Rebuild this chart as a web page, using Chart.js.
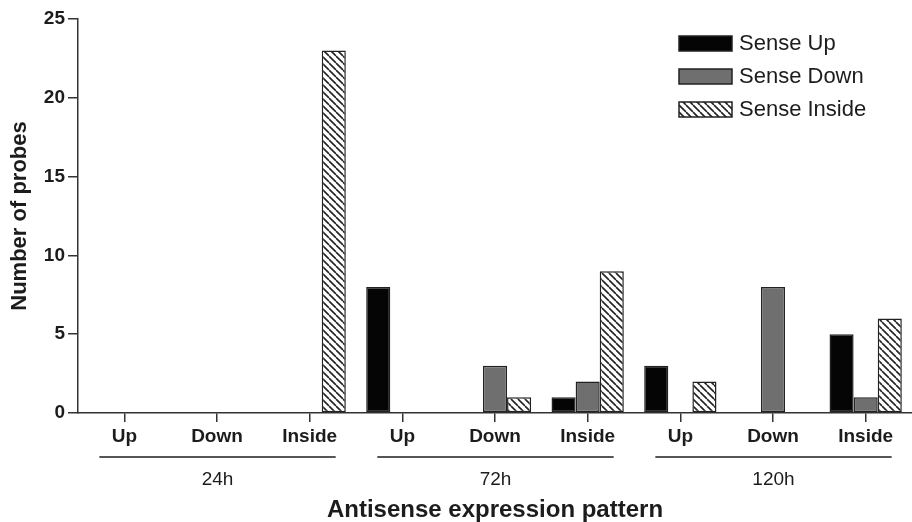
<!DOCTYPE html>
<html>
<head>
<meta charset="utf-8">
<script src="https://cdn.jsdelivr.net/npm/chart.js@4.4.0/dist/chart.umd.min.js"></script>
<style>
  html, body { margin: 0; padding: 0; background: #fff; }
  #wrap { width: 912px; height: 522px; }
</style>
</head>
<body>
<div id="wrap"><canvas id="c" width="912" height="522"></canvas></div>
<script>

// categories (antisense pattern), grouped by time point
categories = ["Up", "Down", "Inside", "Up", "Down", "Inside", "Up", "Down", "Inside"];
groups = ["24h", "72h", "120h"];
groupSize = 3;

// number of probes per sense pattern
senseUp     = [0, 0, 0,  8, 0, 1,  3, 0, 5];
senseDown   = [0, 0, 0,  0, 3, 2,  0, 8, 1];
senseInside = [0, 0, 23, 0, 1, 9,  2, 0, 6];

yTicks = [0, 5, 10, 15, 20, 25];

var FONT = "'Liberation Sans', Arial, Helvetica, sans-serif";
var INK = "#1c1c1c";

function makeHatch()
{
    var s = 7;
    var c = document.createElement("canvas");
    c.width = s; c.height = s;
    var g = c.getContext("2d");
    g.fillStyle = "#ffffff";
    g.fillRect(0, 0, s, s);
    g.strokeStyle = "#222222";
    g.lineWidth = 1.6;
    g.beginPath();
    for (var k = -1; k <= 1; k++)
    {
        g.moveTo(k * s, 0);
        g.lineTo(k * s + s, s);
    }
    g.stroke();
    return document.getElementById("c").getContext("2d").createPattern(c, "repeat");
}

var hatch = makeHatch();

// legend and grouping bars under the axis
var extras = {
    id: "extras",
    afterDraw(chart)
    {
        var ctx = chart.ctx;
        var area = chart.chartArea;
        var xs = chart.scales.x;

        ctx.save();
        // group lines + labels
        for (var g = 0; g < groups.length; g++)
        {
            var x0 = xs.getPixelForValue(g * groupSize) - 25;
            var x1 = xs.getPixelForValue(g * groupSize + groupSize - 1) + 26;
            ctx.strokeStyle = "#555555";
            ctx.lineWidth = 2;
            ctx.beginPath();
            ctx.moveTo(x0, area.bottom + 44);
            ctx.lineTo(x1, area.bottom + 44);
            ctx.stroke();
            ctx.fillStyle = INK;
            ctx.font = "19px " + FONT;
            ctx.textAlign = "center";
            ctx.textBaseline = "middle";
            ctx.fillText(groups[g], (x0 + x1) / 2, area.bottom + 67);
        }

        // legend
        var lx = area.right - 233;
        var ly = area.top + 17;
        chart.data.datasets.forEach((ds, i) =>
        {
            var y = ly + i * 33;
            ctx.fillStyle = ds.backgroundColor;
            ctx.fillRect(lx, y, 53, 15);
            ctx.strokeStyle = "#222222";
            ctx.lineWidth = 1.5;
            ctx.strokeRect(lx, y, 53, 15);
            ctx.fillStyle = INK;
            ctx.font = "22px " + FONT;
            ctx.textAlign = "left";
            ctx.textBaseline = "middle";
            ctx.fillText(ds.label, lx + 60, y + 8);
        });
        ctx.restore();
    }
};

var barStyle = { borderColor: "#222222", borderWidth: 1.5, borderSkipped: false,
                 categoryPercentage: 0.78, barPercentage: 1.0 };

new Chart(document.getElementById("c"), {
    type: "bar",
    data: {
        labels: categories,
        datasets: [
            Object.assign({ label: "Sense Up", data: senseUp, backgroundColor: "#050505" }, barStyle),
            Object.assign({ label: "Sense Down", data: senseDown, backgroundColor: "#6f6f6f" }, barStyle),
            Object.assign({ label: "Sense Inside", data: senseInside, backgroundColor: hatch }, barStyle)
        ]
    },
    plugins: [extras],
    options: {
        responsive: false,
        animation: false,
        layout: { padding: { top: 19, right: 0, left: 0, bottom: 0 } },
        plugins: {
            legend: { display: false },
            tooltip: { enabled: false }
        },
        scales: {
            x: {
                afterFit: (scale) => { scale.height = 109; },
                grid: { display: true, offset: false, drawOnChartArea: false,
                        tickLength: 9, color: "#333333", lineWidth: 1.5 },
                border: { color: "#333333", width: 1.5 },
                ticks: { color: INK, padding: 3, font: { family: FONT, size: 19, weight: "bold" } },
                title: {
                    display: true,
                    text: "Antisense expression pattern",
                    color: INK,
                    padding: { top: 0, bottom: 0 },
                    font: { family: FONT, size: 24, weight: "bold", lineHeight: 1.0 }
                }
            },
            y: {
                min: 0,
                max: 25,
                afterFit: (scale) => { scale.width = 78; },
                afterBuildTicks: (scale) => { scale.ticks = yTicks.map(v => ({ value: v })); },
                grid: { drawOnChartArea: false, tickLength: 10, color: "#333333", lineWidth: 1.5 },
                border: { color: "#333333", width: 1.5 },
                ticks: { color: INK, padding: 3, font: { family: FONT, size: 19, weight: "bold" } },
                title: {
                    display: true,
                    text: "Number of probes",
                    color: INK,
                    padding: { top: 7, bottom: 0 },
                    font: { family: FONT, size: 22, weight: "bold" }
                }
            }
        }
    }
});
</script>
</body>
</html>
